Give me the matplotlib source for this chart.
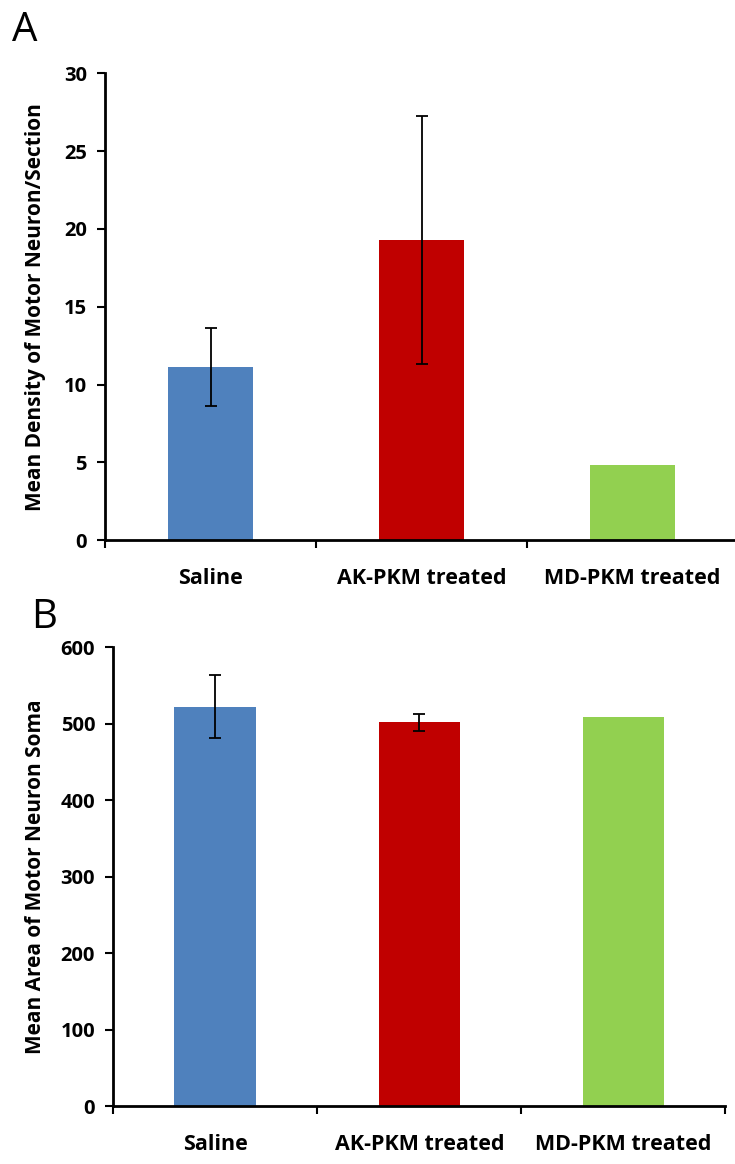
import numpy as np
import matplotlib
matplotlib.use("Agg")
import matplotlib.pyplot as plt

plt.rcParams['font.family'] = ['Open Sans', 'DejaVu Sans']

# data
groups = ["Saline", "AK-PKM treated", "MD-PKM treated"]
colors = ["#4F81BD", "#C00000", "#92D050"]

density_mean = [11.1, 19.3, 4.8]
density_err = [2.5, 7.95, 0.0]
density_ticks = [0, 5, 10, 15, 20, 25, 30]

area_mean = [522.5, 502.0, 508.5]
area_err = [41.0, 11.0, 0.0]
area_ticks = [0, 100, 200, 300, 400, 500, 600]


def draw_panel(ax, means, errs, yticks, ylabel):
    x = np.arange(len(groups)) + 0.5
    ax.bar(x, means, width=0.4, color=colors, zorder=2)
    # only draw error bars where there is one
    has_err = [i for i, e in enumerate(errs) if e > 0]
    ax.errorbar(x[has_err], np.array(means)[has_err], yerr=np.array(errs)[has_err],
                fmt="none", ecolor="black", elinewidth=1.3, capsize=4,
                capthick=1.3, zorder=3)
    ax.set_xlim(0, len(groups))
    ax.set_ylim(yticks[0], yticks[-1])
    ax.set_yticks(yticks)
    ax.set_yticklabels([str(t) for t in yticks], fontsize=14.5, fontweight="bold")
    # boundary ticks without labels, centred labels without ticks
    ax.set_xticks(np.arange(len(groups) + 1))
    ax.set_xticklabels([])
    ax.set_xticks(x, minor=True)
    ax.set_xticklabels(groups, minor=True, fontsize=15.5, fontweight="bold")
    ax.tick_params(axis="x", which="minor", length=0, pad=20)
    ax.tick_params(axis="x", which="major", length=6, width=1.5, direction="out")
    ax.tick_params(axis="y", length=6, width=1.5, direction="out", pad=7)
    for side in ["top", "right"]:
        ax.spines[side].set_visible(False)
    for side in ["left", "bottom"]:
        ax.spines[side].set_linewidth(2)
        ax.spines[side].set_color("black")
    ax.set_ylabel(ylabel, fontsize=15, fontweight="bold")


fig = plt.figure(figsize=(7.35, 11.64), dpi=100)

ax1 = fig.add_axes([0.143, 0.536, 0.861, 0.401])
draw_panel(ax1, density_mean, density_err, density_ticks,
           "Mean Density of Motor Neuron/Section")
ax1.yaxis.set_label_coords(-0.093, 0.5)

ax2 = fig.add_axes([0.154, 0.0498, 0.833, 0.394])
draw_panel(ax2, area_mean, area_err, area_ticks,
           "Mean Area of Motor Neuron Soma")
ax2.yaxis.set_label_coords(-0.11, 0.5)

fig.text(0.017, 0.991, "A", fontsize=29, va="top", ha="left")
fig.text(0.042, 0.487, "B", fontsize=29, va="top", ha="left")

fig.savefig("out.png", dpi=100)
